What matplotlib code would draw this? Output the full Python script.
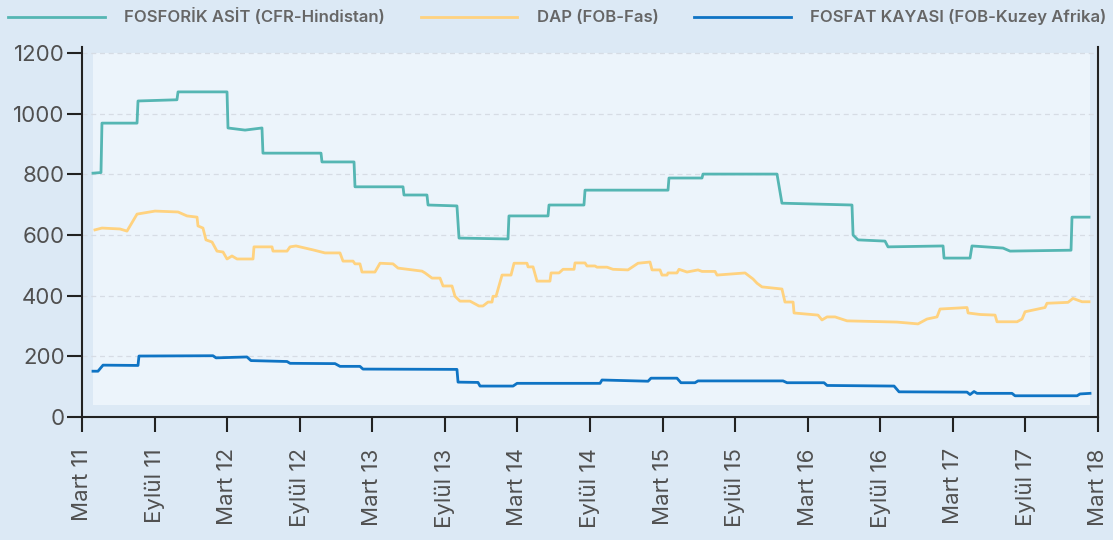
import numpy as np
import matplotlib
matplotlib.use("Agg")
import matplotlib.pyplot as plt
from matplotlib.patches import Rectangle

plt.rcParams['font.family'] = ['Inter', 'DejaVu Sans']

# x = months since Mart 2011
acid_m = [0.91, 1.57, 1.65, 4.55, 4.63, 7.85, 7.94, 11.99, 12.07, 13.48, 14.88, 14.96,
          19.76, 19.84, 22.49, 22.57, 26.54, 26.62, 28.52, 28.61, 31.00, 31.17, 35.22,
          35.30, 38.53, 38.61, 41.50, 41.59, 48.45, 48.53, 51.26, 51.34, 57.46, 57.87,
          63.66, 63.75, 64.16, 66.39, 66.64, 71.19, 71.27, 73.42, 73.58, 76.15, 76.73,
          81.77, 81.85, 83.26]
acid_v = [804, 806, 969, 969, 1042, 1046, 1072, 1072, 953, 946, 953, 870,
          870, 841, 841, 759, 759, 732, 732, 699, 696, 590, 587,
          663, 663, 699, 699, 748, 748, 788, 788, 801, 801, 705,
          699, 600, 584, 580, 561, 564, 524, 524, 564, 557, 547,
          550, 659, 659]

dap_m = [1.07, 1.65, 3.14, 3.72, 4.55, 6.04, 7.94, 8.68, 9.51, 9.59, 10.00, 10.25,
         10.75, 11.16, 11.66, 11.99, 12.40, 12.82, 14.14, 14.22, 15.71, 15.79, 16.95,
         17.20, 17.69, 19.10, 20.09, 21.33, 21.58, 22.41, 22.57, 22.98, 23.15, 24.22,
         24.64, 25.71, 26.13, 28.11, 28.36, 28.94, 29.60, 29.85, 30.59, 30.84, 31.25,
         32.08, 32.82, 33.15, 33.57, 33.90, 33.98, 34.23, 34.73, 35.47, 35.72, 36.79,
         36.88, 37.29, 37.62, 38.69, 38.78, 39.44, 39.77, 40.68, 40.76, 41.59, 41.75,
         42.41, 42.58, 43.41, 43.90, 45.14, 45.97, 46.96, 47.13, 47.79, 47.95, 48.37,
         48.45, 49.19, 49.36, 50.02, 50.93, 51.26, 52.34, 52.50, 54.82, 55.48, 55.81,
         56.22, 57.87, 58.12, 58.79, 58.87, 60.85, 61.18, 61.60, 62.26, 63.25, 67.38,
         69.12, 69.86, 70.69, 70.94, 73.17, 73.26, 74.25, 75.49, 75.65, 77.31, 77.72,
         77.97, 79.62, 79.78, 81.52, 81.93, 82.68, 83.26]
dap_v = [617, 623, 620, 613, 669, 679, 676, 663, 659, 630, 623, 584,
         577, 547, 544, 521, 531, 521, 521, 561, 561, 547, 547,
         561, 564, 551, 541, 541, 514, 514, 505, 505, 478, 478,
         507, 505, 491, 481, 475, 458, 458, 432, 432, 398, 382,
         382, 366, 366, 379, 379, 398, 398, 468, 468, 507, 507,
         495, 495, 448, 448, 475, 475, 487, 487, 508, 508, 498,
         498, 494, 494, 487, 485, 507, 511, 485, 485, 468, 468,
         475, 475, 487, 478, 485, 480, 480, 468, 475, 455, 441,
         429, 422, 379, 379, 343, 336, 320, 330, 330, 317, 313,
         307, 323, 330, 356, 361, 343, 338, 336, 314, 314, 323,
         347, 361, 375, 378, 391, 380, 380]

rock_m = [0.91, 1.32, 1.74, 4.63, 4.71, 10.83, 11.08, 13.64, 13.97, 16.95, 17.20,
          20.92, 21.33, 22.98, 23.23, 31.00, 31.09, 32.74, 32.91, 35.64, 35.97, 42.83,
          42.99, 46.80, 47.04, 49.19, 49.52, 50.68, 50.93, 57.96, 58.29, 61.35, 61.60,
          67.14, 67.55, 73.17, 73.42, 73.75, 74.00, 76.89, 77.14, 82.27, 82.51, 83.34]
rock_v = [151, 151, 171, 170, 201, 202, 195, 198, 186, 183, 177,
          176, 167, 167, 158, 157, 115, 114, 102, 102, 111, 111,
          122, 118, 128, 128, 113, 113, 119, 119, 113, 113, 104,
          102, 83, 82, 74, 84, 78, 78, 70, 70, 76, 78]

tick_months = list(range(0, 85, 6))
tick_labels = ['Mart 11', 'Eylül 11', 'Mart 12', 'Eylül 12', 'Mart 13', 'Eylül 13',
               'Mart 14', 'Eylül 14', 'Mart 15', 'Eylül 15', 'Mart 16', 'Eylül 16',
               'Mart 17', 'Eylül 17', 'Mart 18']

names = ['FOSFORİK ASİT (CFR-Hindistan)', 'DAP (FOB-Fas)', 'FOSFAT KAYASI (FOB-Kuzey Afrika)']
colors = ['#55b6b3', '#ffd27f', '#0f74c4']

BG = '#dce9f5'
PANEL = '#ecf4fb'

fig = plt.figure(figsize=(11.13, 5.40), dpi=100, facecolor=BG)
ax = fig.add_axes([82 / 1113, 123 / 540, 1016 / 1113, 370 / 540])
ax.set_facecolor(BG)

x0 = min(acid_m + dap_m + rock_m)
x1 = max(acid_m + dap_m + rock_m)
ax.add_patch(Rectangle((x0, 40), x1 - x0, 1160, facecolor=PANEL, edgecolor='none', zorder=0))

for yy in range(200, 1201, 200):
    ax.axhline(yy, color='#d6dce4', lw=0.9, ls=(0, (4, 3)), zorder=1)

for m, v, c, n in zip([acid_m, dap_m, rock_m], [acid_v, dap_v, rock_v], colors, names):
    ax.plot(m, v, color=c, lw=2.0, label=n, zorder=3)

ax.set_xlim(0, 84)
ax.set_ylim(0, 1220)
ax.set_yticks(range(0, 1201, 200))
ax.set_xticks(tick_months)
ax.set_xticklabels(tick_labels, rotation=90)

for s in ['left', 'right', 'bottom']:
    ax.spines[s].set_color('#222222')
    ax.spines[s].set_linewidth(1.5)
ax.spines['top'].set_visible(False)

ax.tick_params(axis='both', colors='#222222', width=1.5, length=10.5,
               labelcolor='#505050', labelsize=16)
ax.tick_params(axis='x', pad=12)
ax.tick_params(axis='y', pad=2)

fig.legend(loc='upper left', bbox_to_anchor=(0.0, 1.0), ncol=3, frameon=False,
           handlelength=5.8, handletextpad=1.15, columnspacing=2.15,
           prop={'size': 12, 'weight': 'semibold'}, labelcolor='#666666',
           borderaxespad=0.2, borderpad=0.3)

fig.savefig('out.png', dpi=100, facecolor=BG)
